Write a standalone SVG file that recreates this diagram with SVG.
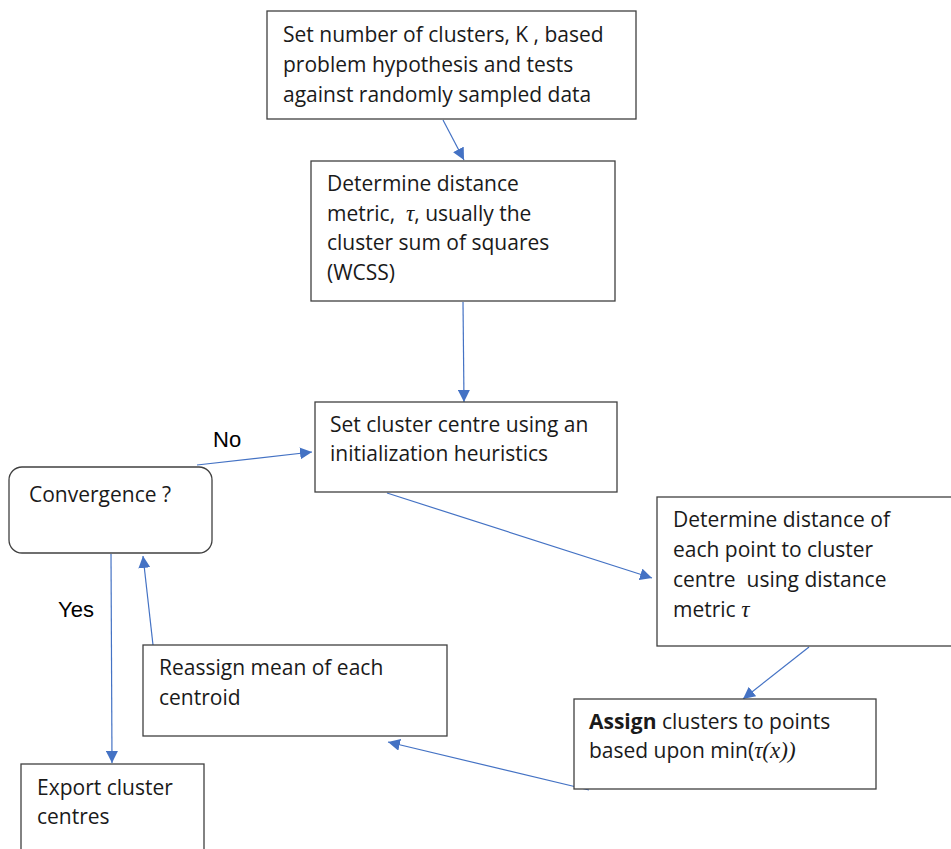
<svg xmlns="http://www.w3.org/2000/svg" width="951" height="849" viewBox="0 0 951 849">
<style>
.box{fill:#fff;stroke:#404040;stroke-width:1.3}
.t{font-family:"Open Sans","Noto Sans","Liberation Sans",sans-serif;font-size:21px;fill:#1a1a1a;white-space:pre}
.lbl{font-family:"Liberation Sans",Arial,sans-serif;font-size:22px;fill:#000}
.m{font-family:"Liberation Serif","Times New Roman",serif;font-style:italic;font-size:23px}
.c{stroke:#4472C4;stroke-width:1.2;fill:none;marker-end:url(#ah)}
</style>
<defs>
<marker id="ah" viewBox="0 0 10 10" refX="10" refY="5" markerWidth="12" markerHeight="12" markerUnits="userSpaceOnUse" orient="auto">
<path d="M0,0 L10,5 L0,10 z" fill="#4472C4"/>
</marker>
</defs>
<rect width="951" height="849" fill="#fff"/>
<g id="connectors">
<line class="c" x1="443" y1="120" x2="464" y2="160"/>
<line class="c" x1="463" y1="302" x2="464" y2="402"/>
<line class="c" x1="197" y1="465" x2="312" y2="452"/>
<line class="c" x1="387" y1="493" x2="652" y2="578"/>
<line class="c" x1="809" y1="647" x2="743" y2="699"/>
<line class="c" x1="589" y1="790" x2="388" y2="742"/>
<line class="c" x1="153" y1="645" x2="143" y2="556"/>
<line class="c" x1="111" y1="554" x2="112" y2="763"/>
</g>
<g id="n1">
<rect class="box" x="267" y="11" width="369" height="108"/>
<text class="t" x="283" y="42">Set number of clusters, K , based</text>
<text class="t" x="283" y="72">problem hypothesis and tests</text>
<text class="t" x="283" y="102">against randomly sampled data</text>
</g>
<g id="n2">
<rect class="box" x="311" y="161" width="304" height="140"/>
<text class="t" x="327" y="191">Determine distance</text>
<text class="t" x="327" y="221">metric,  <tspan class="m">τ</tspan>, usually the</text>
<text class="t" x="327" y="250">cluster sum of squares</text>
<text class="t" x="327" y="280">(WCSS)</text>
</g>
<g id="n3">
<rect class="box" x="315" y="402" width="302" height="90"/>
<text class="t" x="330" y="432">Set cluster centre using an</text>
<text class="t" x="330" y="461">initialization heuristics</text>
</g>
<g id="n4">
<rect class="box" x="9" y="467" width="203" height="86" rx="13" ry="13"/>
<text class="t" x="29" y="502">Convergence ?</text>
</g>
<g id="n5">
<rect class="box" x="657" y="497" width="298" height="149"/>
<text class="t" x="673" y="527">Determine distance of</text>
<text class="t" x="673" y="557">each point to cluster</text>
<text class="t" x="673" y="587">centre  using distance</text>
<text class="t" x="673" y="617">metric <tspan class="m">τ</tspan></text>
</g>
<g id="n6">
<rect class="box" x="574" y="699" width="302" height="90"/>
<text class="t" x="589" y="729"><tspan font-weight="bold">Assign</tspan> clusters to points</text>
<text class="t" x="589" y="758">based upon min(<tspan class="m">τ(x))</tspan></text>
</g>
<g id="n7">
<rect class="box" x="143" y="645" width="304" height="91"/>
<text class="t" x="159" y="675">Reassign mean of each</text>
<text class="t" x="159" y="705">centroid</text>
</g>
<g id="n8">
<rect class="box" x="21" y="764" width="183" height="100"/>
<text class="t" x="37" y="795">Export cluster</text>
<text class="t" x="37" y="824">centres</text>
</g>
<g id="labels">
<text class="lbl" x="213" y="447">No</text>
<text class="lbl" x="58" y="617">Yes</text>
</g>
</svg>
